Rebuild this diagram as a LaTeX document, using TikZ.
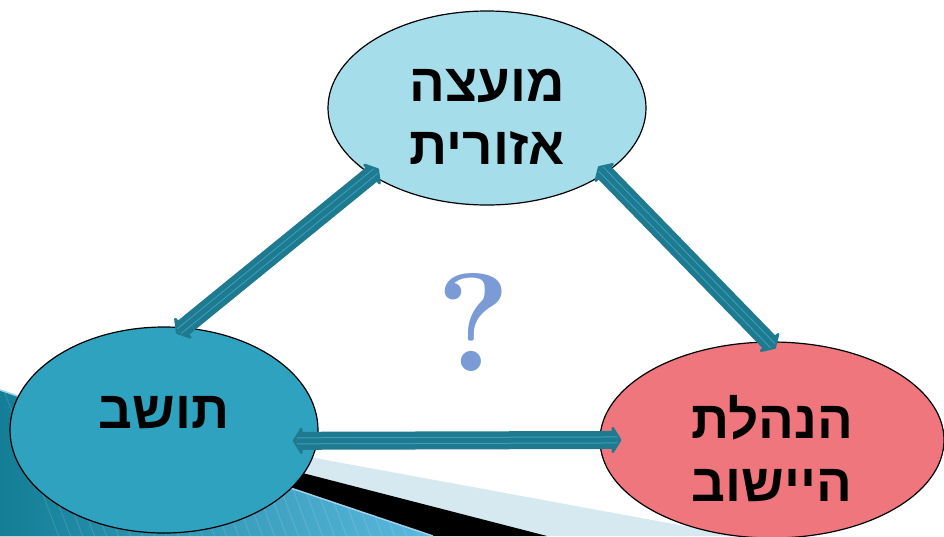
\documentclass[tikz,border=0pt]{standalone}
\usepackage{fontspec}
\usetikzlibrary{arrows.meta,shapes.geometric,positioning}
\TeXXeTstate=1
\newfontfamily\hebfont[Script=Hebrew]{Liberation Sans}
\definecolor{topfill}{HTML}{A6DDEA}
\definecolor{leftfill}{HTML}{2EA2BF}
\definecolor{rightfill}{HTML}{EE767C}
\definecolor{linkc}{HTML}{1F7A90}
\definecolor{linklight}{HTML}{35A2C0}
\definecolor{bandlight}{HTML}{D6E9F0}
\definecolor{banddark}{HTML}{137E96}
\definecolor{bandpale}{HTML}{5BB8DE}
\definecolor{askc}{HTML}{7A9BD6}
\tikzset{
	bubble/.style={ellipse, draw=black, line width=1.2pt, inner sep=0pt},
	lbl/.style={font=\hebfont\bfseries\fontsize{53}{63}\selectfont, align=center, text=black},
	link/.style={draw=linkc, fill=linkc, line width=18pt, line join=round,
		{Triangle[round,width=32pt,length=10pt]}-{Triangle[round,width=32pt,length=10pt]},
		shorten <=-10pt, shorten >=-10pt},
	stripe/.style={draw=linklight, line width=7pt, shorten <=-6pt, shorten >=-6pt},
	core/.style={draw=linkc, line width=5pt, shorten <=-6pt, shorten >=-6pt},
}
\begin{document}
\begin{tikzpicture}[x=1pt,y=-1pt]
	\useasboundingbox (0,0) rectangle (944,536);
	% bands in the corner
	\fill[bandlight] (0,400) -- (739,536) -- (0,536) -- cycle;
	\fill[black] (0,395) -- (547,536) -- (0,536) -- cycle;
	\begin{scope}
		\clip (0,390) -- (433,536) -- (0,536) -- cycle;
		\shade[left color=banddark, right color=bandpale] (0,390) rectangle (433,536);
		\foreach \i in {0,12,...,480}
			\draw[white, opacity=0.12, line width=1pt] (\i,380) -- (\i+60,540);
	\end{scope}
	\draw[bandpale!60, line width=1.5pt] (0,390) -- (433,536);
	% the three bodies
	\node[bubble, fill=topfill, minimum width=318pt, minimum height=194pt] (moatza) at (487,108) {};
	\node[bubble, fill=leftfill, minimum width=308pt, minimum height=206pt] (toshav) at (164,430) {};
	\node[bubble, fill=rightfill, minimum width=344pt, minimum height=196pt] (hanhala) at (772,440) {};
	% connectors
	\draw[link] (moatza.210) -- (toshav.79);
	\draw[stripe] (moatza.210) -- (toshav.79);
	\draw[core] (moatza.210) -- (toshav.79);
	\draw[link] (moatza.331) -- (hanhala.92);
	\draw[stripe] (moatza.331) -- (hanhala.92);
	\draw[core] (moatza.331) -- (hanhala.92);
	\draw[link, shorten <=-25pt, shorten >=-22pt] (toshav.356) -- (hanhala.180);
	\draw[stripe, shorten <=-21pt, shorten >=-18pt] (toshav.356) -- (hanhala.180);
	\draw[core, shorten <=-21pt, shorten >=-18pt] (toshav.356) -- (hanhala.180);
	% texts
	\node[lbl] (moatza-txt) at ([yshift=-9pt]moatza.center) {\beginR מועצה\endR\\\beginR אזורית\endR};
	\node[lbl] (toshav-txt) at ([yshift=17pt]toshav.center) {\beginR תושב\endR};
	\node[lbl] (hanhala-txt) at ([yshift=-9pt]hanhala.center) {\beginR הנהלת\endR\\\beginR היישוב\endR};
	\node[text=askc, font=\bfseries\fontsize{140}{140}\selectfont] (ask) at (474,322) {?};
\end{tikzpicture}
\end{document}
